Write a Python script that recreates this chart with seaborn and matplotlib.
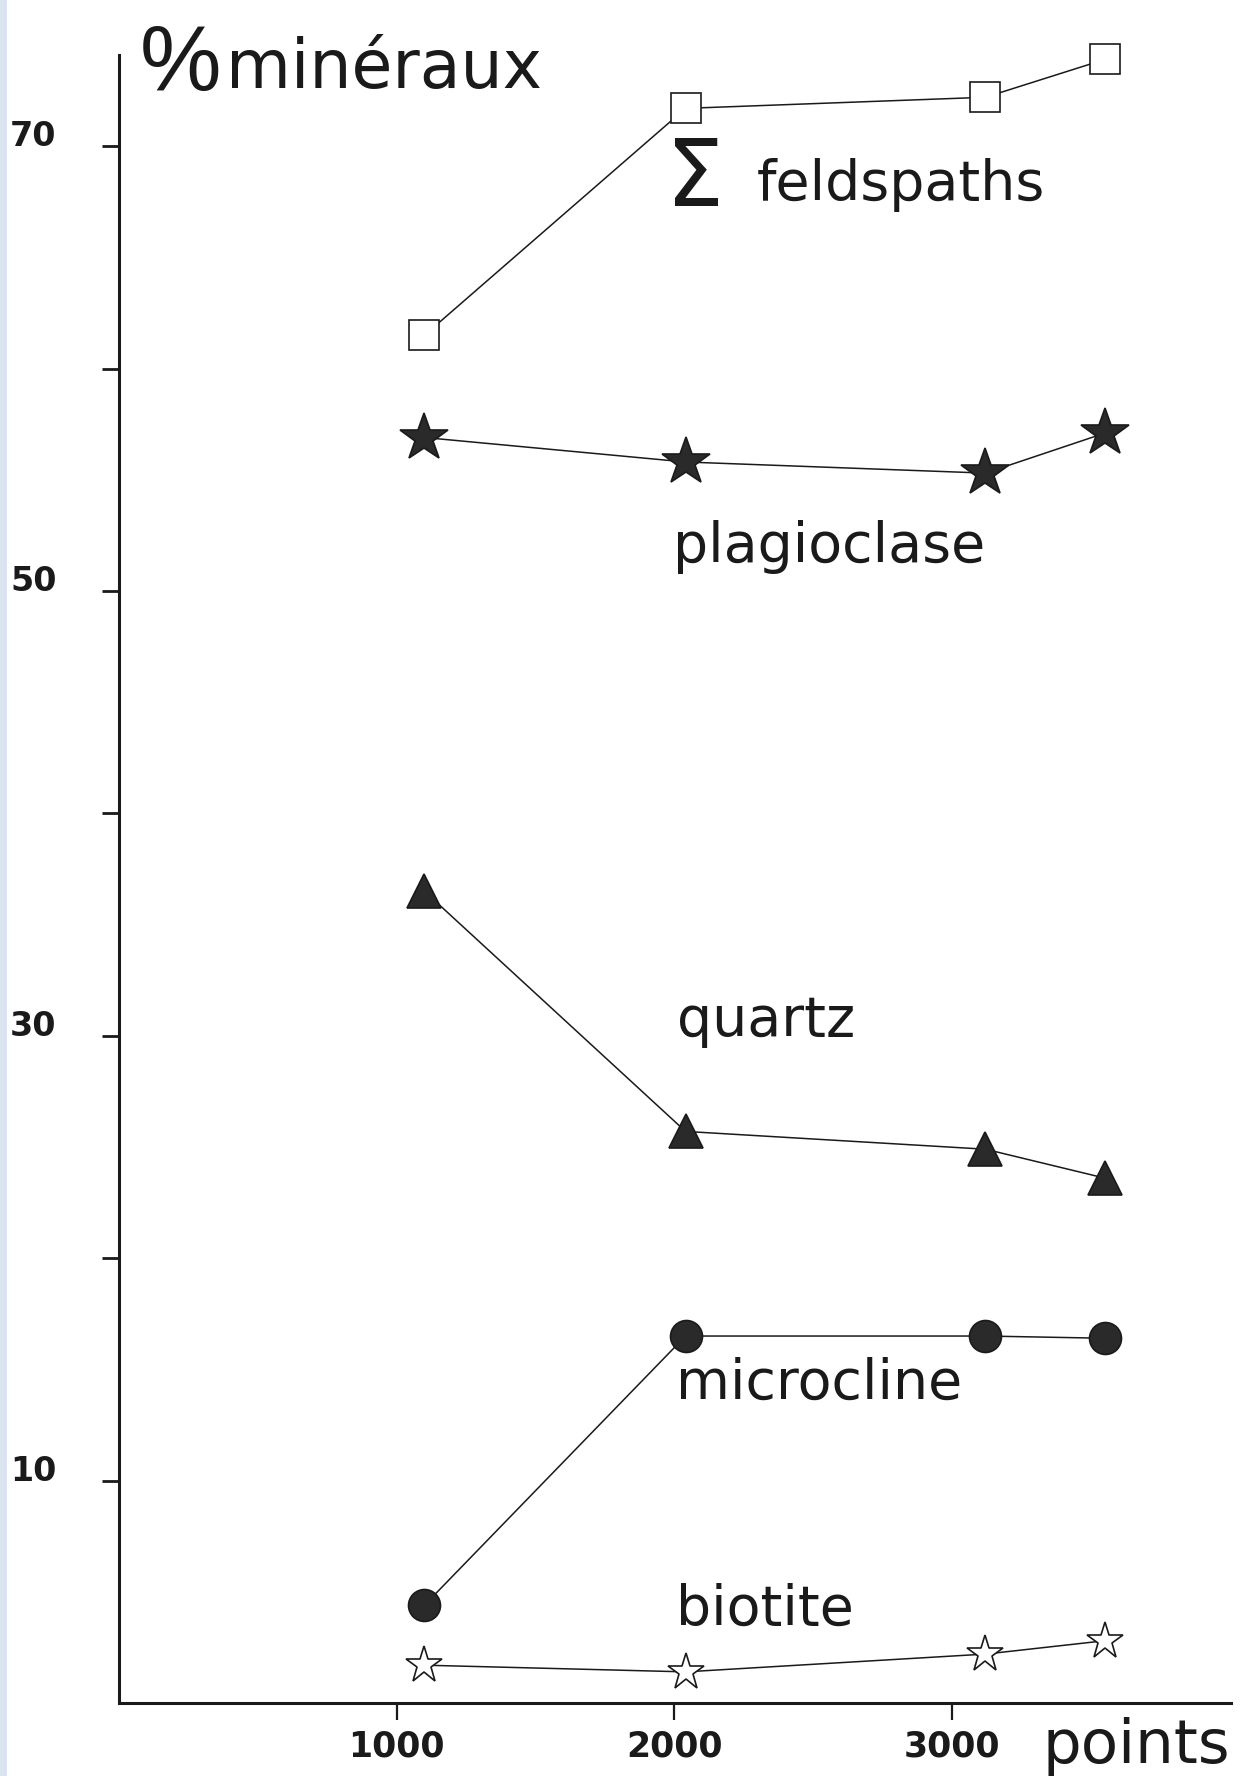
import pandas as pd
import matplotlib
matplotlib.use('Agg')
import matplotlib.pyplot as plt
import seaborn as sns
from matplotlib.patches import Rectangle

# data
points = [1100, 2040, 3120, 3550]
feldspaths = [61.5, 71.7, 72.2, 73.9]
plagioclase = [56.9, 55.8, 55.3, 57.1]
quartz = [36.5, 25.7, 24.9, 23.6]
microcline = [4.4, 16.5, 16.5, 16.4]
biotite = [1.7, 1.4, 2.2, 2.8]

x_ticks = [1000, 2000, 3000]
y_ticks = [10, 20, 30, 40, 50, 60, 70]
y_ticklabels = ['10', '', '30', '', '50', '', '70']

sns.set_style('ticks')
plt.rcParams['font.family'] = ['DejaVu Sans']
ink = '#1a1a1a'

fig = plt.figure(figsize=(12.56, 17.76), dpi=100)
ax = fig.add_axes([119 / 1256, 1 - 1703 / 1776, 1112 / 1256, (1703 - 55) / 1776])

df = pd.DataFrame({'points': points, 'feldspaths': feldspaths, 'plagioclase': plagioclase,
                   'quartz': quartz, 'microcline': microcline, 'biotite': biotite})

# one call per mineral so each gets its own marker
series = [
    ('feldspaths', 's', 22, 'white'),
    ('plagioclase', '*', 36, '#2a2a2a'),
    ('quartz', '^', 25, '#2a2a2a'),
    ('microcline', 'o', 23, '#2a2a2a'),
    ('biotite', '*', 28, 'white'),
]
for col, mk, ms, face in series:
    sns.lineplot(data=df, x='points', y=col, ax=ax, color=ink, lw=1.1,
                 marker=mk, markersize=ms, markerfacecolor=face,
                 markeredgecolor=ink, markeredgewidth=1.2, clip_on=False)

ax.set_xlim(0, 4004)
ax.set_ylim(0, 74.1)
sns.despine(ax=ax)
for s in ['left', 'bottom']:
    ax.spines[s].set_linewidth(2.2)
    ax.spines[s].set_color(ink)

ax.set_xticks(x_ticks)
ax.set_xticklabels([str(v) for v in x_ticks], fontsize=25, fontweight='bold', color=ink)
ax.set_yticks(y_ticks)
ax.set_yticklabels(y_ticklabels, fontsize=24, fontweight='bold', color=ink)
ax.tick_params(axis='x', length=12, width=1.6, direction='out', pad=7, colors=ink)
ax.tick_params(axis='y', length=12, width=2.0, direction='out', pad=33, colors=ink)
for lab in ax.get_yticklabels():
    lab.set_va('baseline')
ax.set_xlabel('')
ax.set_ylabel('')

# curve labels
lab_kw = dict(fontsize=40, color=ink, ha='left', va='baseline')
ax.text(1970, 67.3, 'Σ', fontsize=66, color=ink, ha='left', va='baseline')
ax.text(2295, 67.6, 'feldspaths', **lab_kw)
ax.text(1996, 51.3, 'plagioclase', **lab_kw)
ax.text(2011, 30.0, 'quartz', **lab_kw)
ax.text(2007, 13.7, 'microcline', **lab_kw)
ax.text(2004, 3.5, 'biotite', **lab_kw)

# axis titles
fig.text(140 / 1256, 1 - 90 / 1776, '%', fontsize=66, color=ink, ha='left', va='baseline',
         family=['Liberation Sans Narrow', 'Liberation Sans', 'DejaVu Sans'])
fig.text(226 / 1256, 1 - 88 / 1776, 'minéraux', fontsize=48, color=ink, ha='left', va='baseline')
fig.text(1042 / 1256, 1 - 1763 / 1776, 'points', fontsize=44, color=ink, ha='left', va='baseline')

# light blue strip on the scan's left edge
fig.patches.append(Rectangle((0, 0), 7 / 1256, 1, transform=fig.transFigure,
                             facecolor='#dbe3f0', edgecolor='none'))

fig.savefig('out.png', dpi=100)
